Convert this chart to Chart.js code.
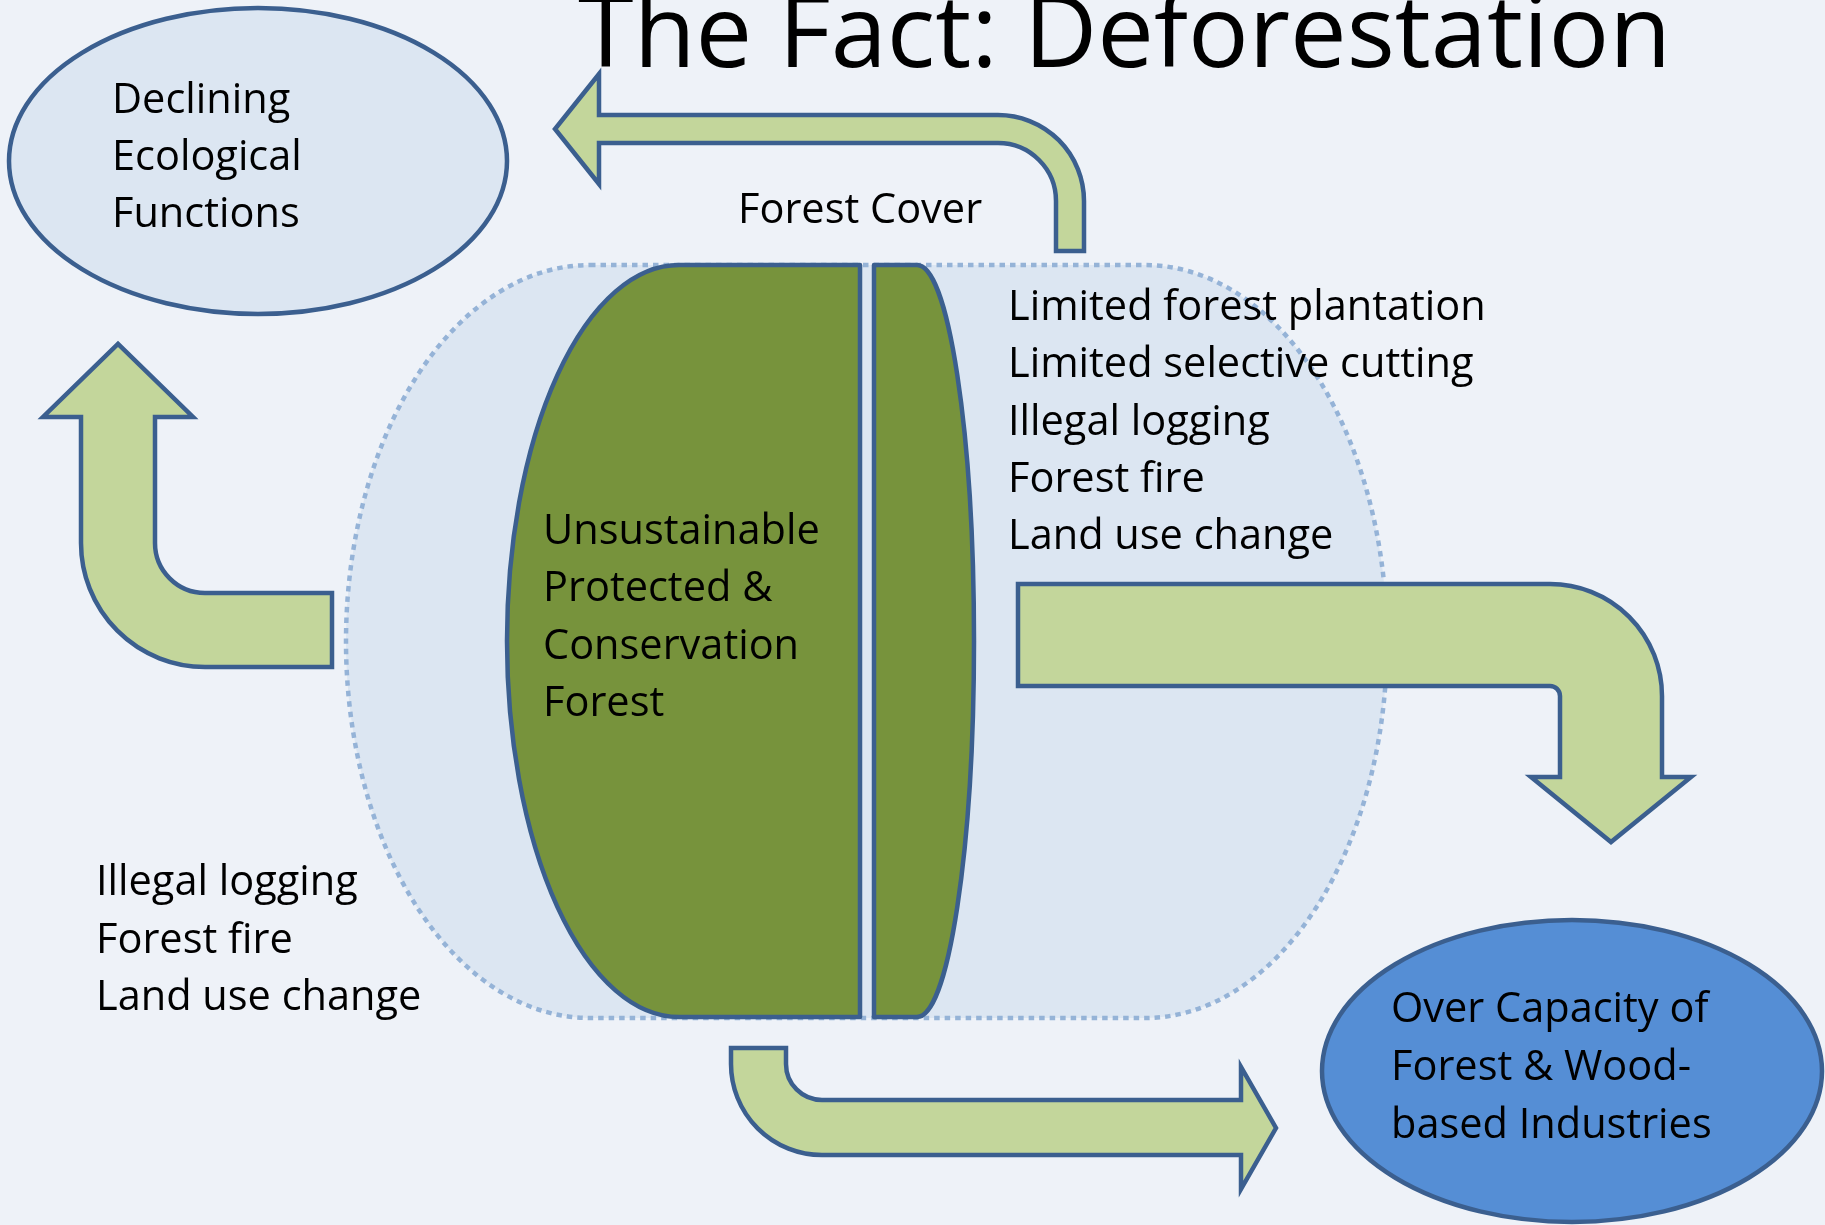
<!DOCTYPE html>
<html>
<head>
<meta charset="utf-8">
<script src="https://cdn.jsdelivr.net/npm/chart.js@4"></script>
<style>
  html, body { margin:0; padding:0; background:#eef2f8; }
  #wrap { width:1825px; height:1225px; }
</style>
</head>
<body>
<div id="wrap"><canvas id="diagram" width="1825" height="1225"></canvas></div>
<script>
// texts of the slide
const titleText = 'The Fact: Deforestation';
const coverLabel = ['Forest Cover'];
const ecoLabel = ['Declining', 'Ecological', 'Functions'];
const forestLabel = ['Unsustainable', 'Protected &', 'Conservation', 'Forest'];
const causesRight = ['Limited forest plantation', 'Limited selective cutting', 'Illegal logging', 'Forest fire', 'Land use change'];
const causesLeft = ['Illegal logging', 'Forest fire', 'Land use change'];
const industryLabel = ['Over Capacity of', 'Forest & Wood-', 'based Industries'];

// shapes, in slide units (x right, y down, 1825 x 1225)
const ellipses = [
  { cx:258, cy:161, rx:249, ry:153, fill:'#dce6f2' },
  { cx:1572, cy:1071, rx:250, ry:151, fill:'#558ed5' }
];
const coverHalo = { left:590, right:1145, top:265, bottom:1018, rxL:244, rxR:242 };
const forestBig = { right:860, cx:679, rx:172, top:265, bottom:1017 };
const forestSmall = { left:874, cx:917, rx:57, top:265, bottom:1017 };

// bent arrows: M move, L line, A arc (cx, cy, r, from, to, ccw)
const PI = Math.PI;
const arrows = [
  [ ['M',1084,251], ['L',1084,201], ['A',998,201,86,0,-PI/2,true], ['L',599,115], ['L',599,74],
    ['L',555,129], ['L',599,184], ['L',599,143], ['L',998,143], ['A',998,201,58,-PI/2,0,false], ['L',1056,251] ],
  [ ['M',332,593], ['L',205,593], ['A',205,543,50,PI/2,PI,false], ['L',155,417], ['L',193,417],
    ['L',118,344], ['L',43,417], ['L',81,417], ['L',81,543], ['A',205,543,124,PI,PI/2,true], ['L',332,667] ],
  [ ['M',1018,584], ['L',1550,584], ['A',1550,696,112,-PI/2,0,false], ['L',1662,777], ['L',1691,777],
    ['L',1611,842], ['L',1531,777], ['L',1560,777], ['L',1560,696], ['A',1550,696,10,0,-PI/2,true], ['L',1018,686] ],
  [ ['M',731,1048], ['L',786,1048], ['L',786,1064], ['A',822,1064,36,PI,PI/2,true], ['L',1241,1100], ['L',1241,1067],
    ['L',1276,1128], ['L',1241,1189], ['L',1241,1155], ['L',822,1155], ['A',822,1064,91,PI/2,PI,false] ]
];

// text blocks: lines, left x, first baseline, line step, font size
const textBlocks = [
  { lines:[titleText], x:578, y:67, step:0, size:101 },
  { lines:coverLabel, x:738, y:223, step:0, size:41.5 },
  { lines:ecoLabel, x:112, y:113, step:57, size:41.5 },
  { lines:forestLabel, x:543, y:544, step:57.4, size:41.5 },
  { lines:causesRight, x:1008, y:320, step:57.3, size:41.5 },
  { lines:causesLeft, x:96, y:895, step:57.5, size:41.5 },
  { lines:industryLabel, x:1391, y:1022, step:58, size:41.5 }
];

const EDGE = '#3b5f8f';
const ARROW_FILL = '#c3d69b';
const GREEN = '#77933c';

const slidePlugin = {
  id:'slide',
  beforeDraw(chart){
    const ctx = chart.ctx;
    const xs = chart.scales.x, ys = chart.scales.y;
    const X = v => xs.getPixelForValue(v);
    const Y = v => ys.getPixelForValue(v);
    const W = v => X(v) - X(0);
    const H = v => Y(v) - Y(0);

    ctx.save();
    ctx.fillStyle = '#eef2f8';
    ctx.fillRect(0, 0, chart.width, chart.height);

    // dotted halo behind the forest
    const h = coverHalo, mid = (h.top + h.bottom) / 2, ry = (h.bottom - h.top) / 2;
    ctx.beginPath();
    ctx.moveTo(X(h.left), Y(h.top));
    ctx.lineTo(X(h.right), Y(h.top));
    ctx.ellipse(X(h.right), Y(mid), W(h.rxR), H(ry), 0, -PI/2, PI/2, false);
    ctx.lineTo(X(h.left), Y(h.bottom));
    ctx.ellipse(X(h.left), Y(mid), W(h.rxL), H(ry), 0, PI/2, 3*PI/2, false);
    ctx.closePath();
    ctx.fillStyle = '#dce6f2';
    ctx.fill();
    ctx.setLineDash([5.5, 5]);
    ctx.lineWidth = 4.5;
    ctx.strokeStyle = '#95b3d7';
    ctx.stroke();
    ctx.setLineDash([]);

    ctx.lineWidth = 4.5;
    ctx.lineJoin = 'round';
    ctx.strokeStyle = EDGE;

    // forest cover parts
    let f = forestBig, fm = (f.top + f.bottom) / 2, fr = (f.bottom - f.top) / 2;
    ctx.beginPath();
    ctx.moveTo(X(f.right), Y(f.top));
    ctx.lineTo(X(f.cx), Y(f.top));
    ctx.ellipse(X(f.cx), Y(fm), W(f.rx), H(fr), 0, -PI/2, -3*PI/2, true);
    ctx.lineTo(X(f.right), Y(f.bottom));
    ctx.closePath();
    ctx.fillStyle = GREEN;
    ctx.fill();
    ctx.stroke();

    f = forestSmall; fm = (f.top + f.bottom) / 2; fr = (f.bottom - f.top) / 2;
    ctx.beginPath();
    ctx.moveTo(X(f.left), Y(f.top));
    ctx.lineTo(X(f.cx), Y(f.top));
    ctx.ellipse(X(f.cx), Y(fm), W(f.rx), H(fr), 0, -PI/2, PI/2, false);
    ctx.lineTo(X(f.left), Y(f.bottom));
    ctx.closePath();
    ctx.fill();
    ctx.stroke();

    // arrows
    ctx.lineJoin = 'miter';
    arrows.forEach(path => {
      ctx.beginPath();
      path.forEach(c => {
        if (c[0] === 'M') ctx.moveTo(X(c[1]), Y(c[2]));
        else if (c[0] === 'L') ctx.lineTo(X(c[1]), Y(c[2]));
        else ctx.arc(X(c[1]), Y(c[2]), W(c[3]), c[4], c[5], c[6]);
      });
      ctx.closePath();
      ctx.fillStyle = ARROW_FILL;
      ctx.fill();
      ctx.stroke();
    });

    // end nodes
    ellipses.forEach(e => {
      ctx.beginPath();
      ctx.ellipse(X(e.cx), Y(e.cy), W(e.rx), H(e.ry), 0, 0, 2*PI);
      ctx.fillStyle = e.fill;
      ctx.fill();
      ctx.stroke();
    });

    // labels
    ctx.fillStyle = '#000';
    ctx.textBaseline = 'alphabetic';
    ctx.textAlign = 'left';
    textBlocks.forEach(b => {
      ctx.font = `${b.size}px "Open Sans", "DejaVu Sans", sans-serif`;
      b.lines.forEach((line, i) => {
        ctx.fillText(line, X(b.x), Y(b.y + i * b.step));
      });
    });
    ctx.restore();
  }
};

new Chart(document.getElementById('diagram'), {
  type:'scatter',
  data:{ datasets:[] },
  options:{
    responsive:false,
    animation:false,
    layout:{ padding:0 },
    plugins:{ legend:{ display:false }, tooltip:{ enabled:false } },
    scales:{
      x:{ type:'linear', min:0, max:1825, display:false },
      y:{ type:'linear', min:0, max:1225, reverse:true, display:false }
    }
  },
  plugins:[slidePlugin]
});
</script>
</body>
</html>
